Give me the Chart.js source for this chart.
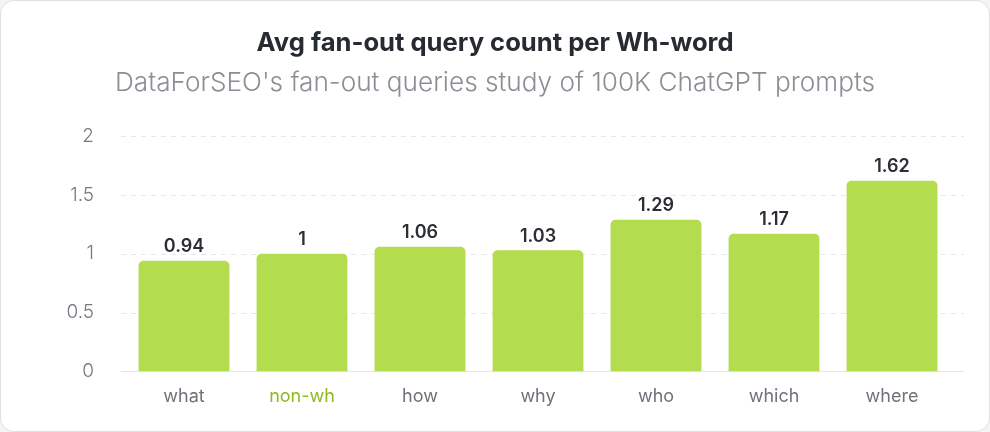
<!DOCTYPE html>
<html>
<head>
<meta charset="utf-8">
<script src="https://cdn.jsdelivr.net/npm/chart.js@4"></script>
<style>
  html, body { margin: 0; padding: 0; background: #f3f4f5; }
  .card {
    position: absolute; left: 0; top: 0;
    width: 988px; height: 430px;
    background: #fff;
    border: 1px solid #dfe1e4;
    border-radius: 14px;
    overflow: hidden;
  }
  #chart { display: block; }
</style>
</head>
<body>
<div class="card">
  <canvas id="chart" width="988" height="430"></canvas>
</div>
<script>
// Données
const categories = ['what', 'non-wh', 'how', 'why', 'who', 'which', 'where'];
const avgFanOut = [0.94, 1, 1.06, 1.03, 1.29, 1.17, 1.62];
const yTicks = [0, 0.5, 1, 1.5, 2];
const highlighted = 'non-wh';

const fontFamily = 'Inter, "Noto Sans", sans-serif';

// Lignes de grille pointillées, un peu plus larges que la zone des barres
const gridPlugin = {
    id: 'dashedGrid',
    beforeDatasetsDraw(chart) {
        const { ctx, chartArea, scales } = chart;
        ctx.save();
        ctx.lineWidth = 1;
        yTicks.forEach(v => {
            const y = Math.round(scales.y.getPixelForValue(v)) + 0.5;
            ctx.beginPath();
            if (v === 0) {
                ctx.setLineDash([]);
                ctx.strokeStyle = '#e4e6e9';
            } else {
                ctx.setLineDash([5, 5]);
                ctx.strokeStyle = '#e6e7e9';
            }
            ctx.moveTo(chartArea.left - 4, y);
            ctx.lineTo(chartArea.right + 13, y);
            ctx.stroke();
        });
        ctx.restore();
    }
};

// Étiquettes de valeurs au-dessus des barres
const valueLabels = {
    id: 'valueLabels',
    afterDatasetsDraw(chart) {
        const { ctx } = chart;
        const meta = chart.getDatasetMeta(0);
        ctx.save();
        ctx.font = `600 18px ${fontFamily}`;
        ctx.fillStyle = '#2b2e34';
        ctx.textAlign = 'center';
        ctx.textBaseline = 'middle';
        meta.data.forEach((bar, i) => {
            ctx.fillText(String(avgFanOut[i]), bar.x, bar.y - 14);
        });
        ctx.restore();
    }
};

new Chart(document.getElementById('chart'), {
    type: 'bar',
    data: {
        labels: categories,
        datasets: [{
            label: 'Avg fan-out queries',
            data: avgFanOut,
            backgroundColor: '#b3dd4f',
            borderRadius: 5,
            barPercentage: 0.77,
            categoryPercentage: 1
        }]
    },
    options: {
        responsive: false,
        animation: false,
        layout: { padding: { left: 0, right: 0, top: 0, bottom: 18 } },
        plugins: {
            legend: { display: false },
            tooltip: { enabled: false },
            title: {
                display: true,
                text: 'Avg fan-out query count per Wh-word',
                color: '#262a31',
                font: { family: fontFamily, size: 25.6, weight: '700' },
                padding: { top: 27, bottom: 5 }
            },
            subtitle: {
                display: true,
                text: "DataForSEO's fan-out queries study of 100K ChatGPT prompts",
                color: '#8b8e94',
                font: { family: fontFamily, size: 26.2, weight: '300' },
                padding: { top: 4, bottom: 37 }
            }
        },
        scales: {
            x: {
                grid: { display: false },
                border: { display: false },
                ticks: {
                    padding: 6,
                    font: { family: fontFamily, size: 18 },
                    color: ctx => categories[ctx.index] === highlighted ? '#8dbb1c' : '#6f7279'
                }
            },
            y: {
                min: 0,
                max: 2,
                afterFit(scale) { scale.width = 124; },
                afterBuildTicks(scale) { scale.ticks = yTicks.map(v => ({ value: v })); },
                grid: { display: false, drawTicks: false },
                border: { display: false },
                ticks: {
                    padding: 31,
                    font: { family: fontFamily, size: 19, weight: '300' },
                    color: '#75787e',
                    callback: v => String(v)
                }
            },
            // marge droite (axe vide) pour garder le titre centré sur la carte
            yRight: {
                position: 'right',
                min: 0,
                max: 2,
                afterFit(scale) { scale.width = 38; },
                grid: { display: false, drawTicks: false },
                border: { display: false },
                ticks: { display: false }
            }
        }
    },
    plugins: [gridPlugin, valueLabels]
});
</script>
</body>
</html>
